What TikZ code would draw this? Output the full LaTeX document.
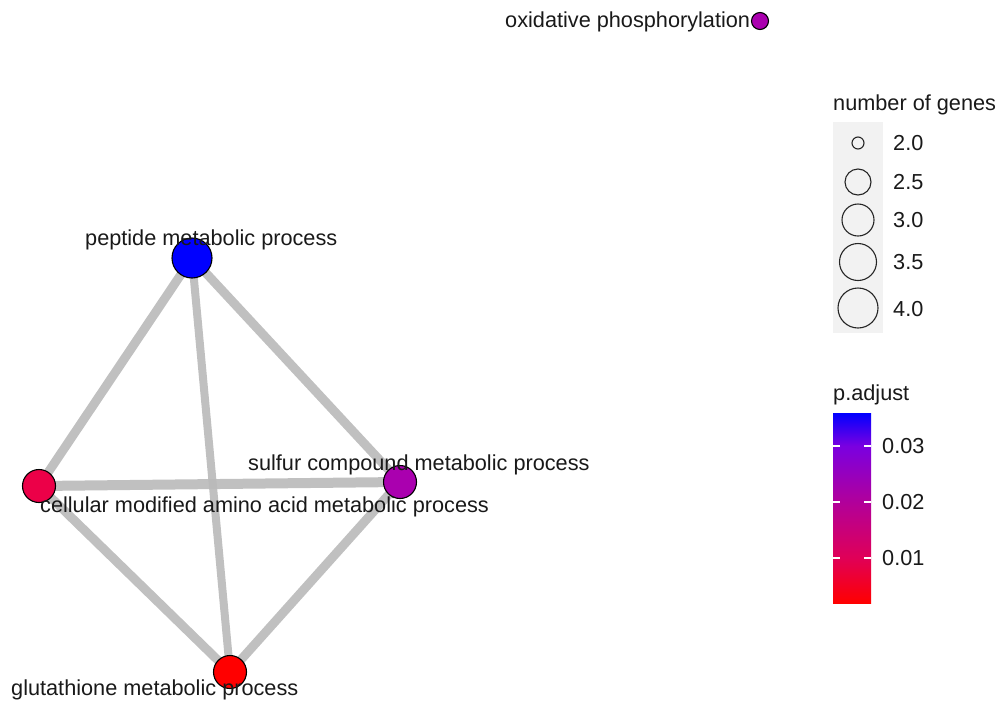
\documentclass[tikz,border=0pt]{standalone}
\usepackage{fontspec}
\setmainfont{Liberation Sans}
\pgfdeclareverticalshading{pgrad}{100bp}{
  rgb(0bp)=(1,0,0);
  rgb(25bp)=(1,0,0);
  rgb(36.8bp)=(0.88,0,0.34);
  rgb(51.3bp)=(0.70,0,0.60);
  rgb(66.3bp)=(0.48,0,0.88);
  rgb(75bp)=(0,0,1);
  rgb(100bp)=(0,0,1)}
\begin{document}
\begin{tikzpicture}[x=1pt,y=-1pt,
  lbl/.style={anchor=base west,inner sep=0pt,font=\fontsize{21.7}{24}\selectfont,text=black!90},
  term/.style={circle,draw=black,line width=1.1pt,inner sep=0pt,minimum size=#1},
  edge/.style={draw={rgb,255:red,185;green,185;blue,185},opacity=0.9,line width=#1},
  key/.style={circle,draw=black!85,line width=1.1pt,inner sep=0pt,minimum size=#1}
]
\definecolor{cblue}{RGB}{0,0,255}
\definecolor{cpurp}{RGB}{170,0,175}
\definecolor{ccrim}{RGB}{236,0,72}
\definecolor{cred}{RGB}{255,0,0}
\useasboundingbox (0,0) rectangle (999,702);
% term nodes
\node[term=40pt,fill=cblue] (pep) at (192,258) {};
\node[term=33pt,fill=ccrim] (cel) at (39,486) {};
\node[term=33pt,fill=cpurp] (sul) at (400,482) {};
\node[term=33pt,fill=cred] (glu) at (230,672) {};
\node[term=17pt,fill=cpurp] (oxi) at (760,21) {};
% edges
\pgfdeclarelayer{bg}\pgfsetlayers{bg,main}
\begin{pgfonlayer}{bg}
\draw[edge=9pt] (pep.center) -- (cel.center);
\draw[edge=9pt] (pep.center) -- (sul.center);
\draw[edge=8pt] (pep.center) -- (glu.center);
\draw[edge=10pt] (cel.center) -- (sul.center);
\draw[edge=9pt] (cel.center) -- (glu.center);
\draw[edge=9pt] (sul.center) -- (glu.center);
\end{pgfonlayer}
% labels
\node[lbl] (lpep) at (85,245) {peptide metabolic process};
\node[lbl] (lsul) at (248,470) {sulfur compound metabolic process};
\node[lbl] (lcel) at (40,512) {cellular modified amino acid metabolic process};
\node[lbl] (lglu) at (11,695) {glutathione metabolic process};
\node[lbl] (loxi) at (505,27) {oxidative phosphorylation};
% size legend
\node[lbl] (tsize) at (833,110) {number of genes};
\fill[black!5] (833,122) rectangle (883,333);
\node[key=12pt] (k1) at (858,143) {};
\node[key=26pt] (k2) at (858,182) {};
\node[key=32pt] (k3) at (858,220) {};
\node[key=37pt] (k4) at (858,262) {};
\node[key=40pt] (k5) at (858,308) {};
\node[lbl] (v1) at (893,150) {2.0};
\node[lbl] (v2) at (893,189) {2.5};
\node[lbl] (v3) at (893,227) {3.0};
\node[lbl] (v4) at (893,269) {3.5};
\node[lbl] (v5) at (893,316) {4.0};
% colour bar
\node[lbl] (tcol) at (833,400) {p.adjust};
\shade[shading=pgrad] (833,413) rectangle (871,603);
\foreach \yy in {446,502,558}{
  \draw[white,line width=1.2pt] (833,\yy) -- (840,\yy);
  \draw[white,line width=1.2pt] (864,\yy) -- (871,\yy);
}
\node[lbl] (c3) at (882,453) {0.03};
\node[lbl] (c2) at (882,509) {0.02};
\node[lbl] (c1) at (882,565) {0.01};
\end{tikzpicture}
\end{document}
